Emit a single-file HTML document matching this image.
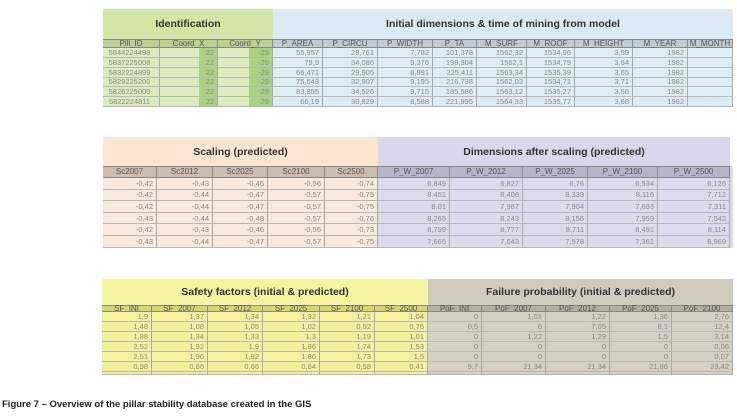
<!DOCTYPE html>
<html><head><meta charset="utf-8">
<style>
body{margin:0;width:737px;height:418px;background:#fff;position:relative;overflow:hidden;font-family:"Liberation Sans",sans-serif}
.a{position:absolute;box-sizing:border-box}
.band{display:flex;align-items:center;justify-content:center;font-weight:bold;font-size:10.5px;color:#333}
.hd{font-size:8px;color:#555;text-align:center;line-height:1;display:flex;align-items:center;justify-content:center;border-right:1px solid #8a8a8a;border-top:1px solid #888;border-bottom:1px solid #888}
.cell{font-size:7.5px;color:#8a8a8a;text-align:right;padding-right:3px;border-right:1px solid #aaa;border-bottom:1px solid #b8b8b8;display:flex;align-items:center;justify-content:flex-end;overflow:hidden;white-space:nowrap}
#caption{left:2px;top:399px;font-size:9.5px;font-weight:bold;color:#222}
</style></head><body>
<div id="root"></div>
<div class="a" id="caption">Figure 7 – Overview of the pillar stability database created in the GIS</div>
<script>
const t1Cols=["Pill_ID","Coord_X","Coord_Y","P_AREA","P_CIRCU","P_WIDTH","P_TA","M_SURF","M_ROOF","M_HEIGHT","M_YEAR","M_MONTH"];
const t1Rows=[
["5844224498","22","-29","55,957","28,761","7,782","101,378","1562,32","1534,96","3,59","1982",""],
["5837225008","22","-29","79,9","34,086","9,376","198,304","1562,1","1534,79","3,64","1982",""],
["5832224899","22","-29","66,471","29,905","8,891","225,411","1563,34","1535,39","3,65","1982",""],
["5829225200","22","-29","75,643","32,907","9,195","216,738","1562,03","1534,71","3,71","1982",""],
["5826225000","22","-29","83,855","34,526","9,715","185,586","1563,12","1535,27","3,56","1982",""],
["5822224811","22","-29","66,19","30,829","8,588","221,995","1564,33","1535,77","3,68","1982",""]];
const t2Cols=["Sc2007","Sc2012","Sc2025","Sc2100","Sc2500","P_W_2007","P_W_2012","P_W_2025","P_W_2100","P_W_2500"];
const t2Rows=[
["-0,42","-0,43","-0,46","-0,56","-0,74","6,849","6,827","6,76","6,534","6,126"],
["-0,42","-0,44","-0,47","-0,57","-0,75","8,451","8,406","8,339","8,116","7,712"],
["-0,42","-0,44","-0,47","-0,57","-0,75","8,01","7,987","7,904","7,693","7,311"],
["-0,43","-0,44","-0,48","-0,57","-0,76","8,265","8,243","8,156","7,959","7,542"],
["-0,42","-0,43","-0,46","-0,56","-0,73","8,799","8,777","8,711","8,491","8,114"],
["-0,43","-0,44","-0,47","-0,57","-0,75","7,665","7,643","7,578","7,361","6,969"]];
const t3Cols=["SF_INI","SF_2007","SF_2012","SF_2025","SF_2100","SF_2500","PoF_INI","PoF_2007","PoF_2012","PoF_2025","PoF_2100"];
const t3Rows=[
["1,9","1,37","1,34","1,32","1,21","1,04","0","1,01","1,22","1,36","2,76"],
["1,48","1,08","1,05","1,02","0,92","0,76","0,5","6","7,05","8,1","12,4"],
["1,88","1,34","1,33","1,3","1,19","1,01","0","1,22","1,29","1,5","3,14"],
["2,52","1,92","1,9","1,86","1,74","1,53","0","0","0","0","0,06"],
["2,51","1,96","1,92","1,86","1,73","1,5","0","0","0","0","0,07"],
["0,98","0,66","0,66","0,64","0,58","0,41","9,7","21,34","21,34","21,86","23,42"]];

const root=document.getElementById('root');
function box(cls,x,y,w,h,bg,txt){const d=document.createElement('div');d.className='a '+cls;d.style.left=x+'px';d.style.top=y+'px';d.style.width=w+'px';d.style.height=h+'px';if(bg)d.style.background=bg;if(txt!==undefined)d.textContent=txt;root.appendChild(d);return d;}
function table(name,edges,cols,rows,top,bandBot,hdBot,rowH,nRows,groups,extraPartial){
  groups.forEach(g=>{
    const b=box('band',edges[g.from],top,edges[g.to]-edges[g.from],bandBot-top,g.band,g.title);
    
    
  });
  cols.forEach((c,i)=>{
    const g=groups.find(g=>i>=g.from&&i<g.to);
    const h=box('hd',edges[i],bandBot,edges[i+1]-edges[i],hdBot-bandBot,g.hd,c);
    
    
    for(let r=0;r<nRows;r++){
      const y=hdBot+r*rowH;
      const v=r<rows.length?rows[r][i]:'';
      const cl=box('cell',edges[i],y,edges[i+1]-edges[i],(r==nRows-1&&extraPartial)?extraPartial:rowH,g.cell,v);
      if(g.dark&&g.dark[i]!==undefined){cl.style.background='linear-gradient(to right,'+g.cell+' '+g.dark[i]+'%,#a9d37e '+g.dark[i]+'%)';}
      if(i===0&&name==='identification')cl.style.justifyContent='center';
      
      
    }
  });
}
table('identification',[103,160,218,273,323,378,433,477,527,575,633,688,733],t1Cols,t1Rows,9,39,48,9.85,6,[
 {from:0,to:3,title:'Identification',name:'identification',band:'#d3e6a6',hd:'#b9d08f',cell:'#dcecbf',dark:{1:68,2:57}},
 {from:3,to:12,title:'Initial dimensions & time of mining from model',name:'initial-dimensions',band:'#dbeaf4',hd:'#bccbd5',cell:'#deecf5'}],0);
table('scaling',[103,157,213,268,325,378,450,523,588,658,730],t2Cols,t2Rows,137,166,178,11.6,6,[
 {from:0,to:5,title:'Scaling (predicted)',name:'scaling',band:'#fbe5d2',hd:'#cdbcae',cell:'#fbeadc'},
 {from:5,to:10,title:'Dimensions after scaling (predicted)',name:'dimensions-after-scaling',band:'#dad6eb',hd:'#b9b3ca',cell:'#dddaed'}],0);
box('','730',178-12,3,82,'#dddaed');
table('safety',[102,152,208,263,320,375,428,482,546,610,672,733],t3Cols,t3Rows,279,305,312,10,7,[
 {from:0,to:6,title:'Safety factors (initial & predicted)',name:'safety-factors',band:'#f5f4a0',hd:'#d8d66c',cell:'#f3f19a'},
 {from:6,to:11,title:'Failure probability (initial & predicted)',name:'failure-probability',band:'#d1cabe',hd:'#b6ae9f',cell:'#d6cfc4'}],3);
</script>
</body></html>
